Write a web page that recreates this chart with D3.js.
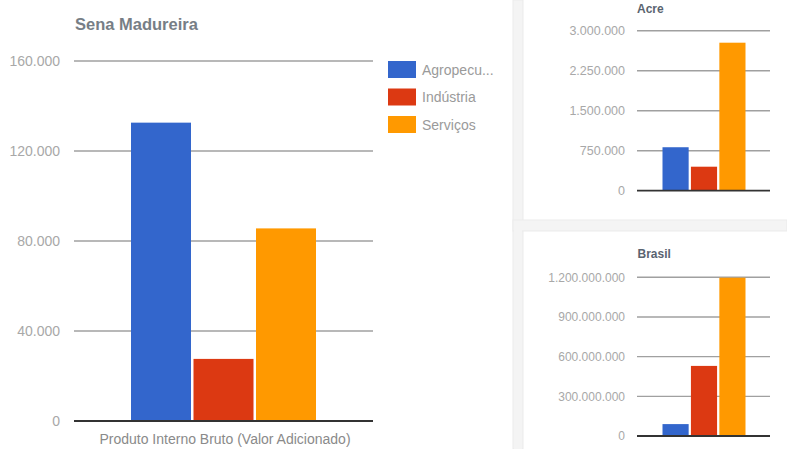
<!DOCTYPE html>
<html><head><meta charset="utf-8">
<script src="https://cdn.jsdelivr.net/npm/d3@7"></script>
<style>
html,body{margin:0;padding:0;background:#fff;}
svg{display:block;font-family:"Liberation Sans",Arial,sans-serif;}
</style></head>
<body>
<svg id="c" width="787" height="449"></svg>
<script>
// ---- data ----
const sectors = ["Agropecuária", "Indústria", "Serviços"];
const legendLabels = ["Agropecu...", "Indústria", "Serviços"];
const colors = ["#3366cc", "#dc3912", "#ff9900"];
const category = "Produto Interno Bruto (Valor Adicionado)";

const senaTitle = "Sena Madureira";
const senaValues = [132600, 27600, 85600];
const senaTicks = [0, 40000, 80000, 120000, 160000];

const acreTitle = "Acre";
const acreValues = [815000, 450000, 2775000];
const acreTicks = [0, 750000, 1500000, 2250000, 3000000];

const brasilTitle = "Brasil";
const brasilValues = [90000000, 530000000, 1197000000];
const brasilTicks = [0, 300000000, 600000000, 900000000, 1200000000];

const fmt = v => d3.format(",")(v).replace(/,/g, ".");

const svg = d3.select("#c");

// panel separators (right side)
svg.append("rect").attr("x", 513).attr("y", 0).attr("width", 10).attr("height", 449)
  .attr("fill", "#f4f4f4").attr("stroke", "#ebebeb").attr("stroke-width", 1);
svg.append("rect").attr("x", 513).attr("y", 220).attr("width", 274).attr("height", 11)
  .attr("fill", "#f4f4f4").attr("stroke", "#ebebeb").attr("stroke-width", 1);
svg.append("rect").attr("x", 514).attr("y", 221).attr("width", 8).attr("height", 228).attr("fill", "#f4f4f4");

function drawChart(o) {
  const y = d3.scaleLinear().domain([o.ticks[0], o.ticks[o.ticks.length - 1]]).range([o.y0, o.y1]);
  const x = d3.scaleBand().domain(sectors).range([o.bx0, o.bx1]).paddingInner(o.pad);
  const g = svg.append("g");
  // gridlines
  g.selectAll("line.grid").data(o.ticks.filter(t => t !== 0)).join("line")
    .attr("x1", o.gx0).attr("x2", o.gx1)
    .attr("y1", d => y(d)).attr("y2", d => y(d))
    .attr("stroke", "#a0a0a0").attr("stroke-width", o.gw);
  // axis labels
  const ax = d3.axisLeft(y).tickValues(o.ticks).tickFormat(fmt).tickSize(0).tickPadding(0);
  const axg = g.append("g").attr("transform", `translate(${o.lx},0)`).call(ax);
  axg.select(".domain").remove();
  axg.selectAll("text").attr("fill", "#a8a8a8").style("font-size", o.fs + "px")
    .style("font-family", "'Liberation Sans',Arial,sans-serif");
  // bars
  g.selectAll("rect.bar").data(o.values).join("rect")
    .attr("x", (d, i) => x(sectors[i])).attr("width", x.bandwidth())
    .attr("y", d => y(d)).attr("height", d => y(0) - y(d))
    .attr("fill", (d, i) => colors[i]);
  // baseline
  g.append("line").attr("x1", o.gx0).attr("x2", o.gx1)
    .attr("y1", y(0)).attr("y2", y(0)).attr("stroke", "#333").attr("stroke-width", o.bw);
  // title
  g.append("text").attr("x", o.tx).attr("y", o.ty).text(o.title)
    .attr("fill", o.tc).style("font-weight", "bold").style("font-size", o.tfs + "px");
  return {x, y};
}

// main chart
drawChart({
  ticks: senaTicks, values: senaValues, title: senaTitle,
  y0: 421, y1: 61, bx0: 131, bx1: 316, pad: 0.04,
  gx0: 74, gx1: 373, lx: 60, fs: 14, gw: 1.6, bw: 2,
  tx: 75, ty: 30, tc: "#777e86", tfs: 16.5
});
svg.append("text").attr("x", 225).attr("y", 444).attr("text-anchor", "middle")
  .attr("fill", "#8a8a8a").style("font-size", "14px").text(category);

// legend
const leg = svg.append("g").selectAll("g").data(legendLabels).join("g")
  .attr("transform", (d, i) => `translate(388,${61 + i * 27.5})`);
leg.append("rect").attr("width", 28).attr("height", 17).attr("fill", (d, i) => colors[i]);
leg.append("text").attr("x", 34).attr("y", 13.5).text(d => d)
  .attr("fill", "#9a9a9a").style("font-size", "14px");

// Acre
drawChart({
  ticks: acreTicks, values: acreValues, title: acreTitle,
  y0: 190.7, y1: 30.7, bx0: 662.5, bx1: 745.5, pad: 0.08,
  gx0: 637, gx1: 770, lx: 625, fs: 12.5, gw: 1.4, bw: 1.8,
  tx: 637, ty: 13, tc: "#5a6470", tfs: 12
});

// Brasil
drawChart({
  ticks: brasilTicks, values: brasilValues, title: brasilTitle,
  y0: 436, y1: 277.3, bx0: 662.5, bx1: 745.5, pad: 0.08,
  gx0: 637, gx1: 770, lx: 625, fs: 12, gw: 1.4, bw: 1.8,
  tx: 637.5, ty: 258, tc: "#5a6470", tfs: 12
});
</script>
</body></html>
